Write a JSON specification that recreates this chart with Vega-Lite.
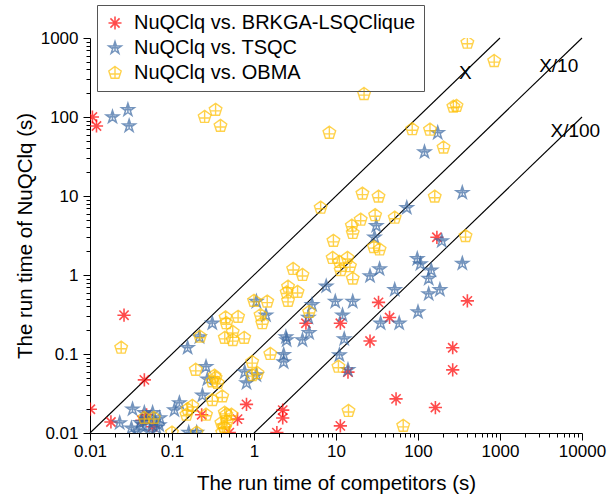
{
  "$schema": "https://vega.github.io/schema/vega-lite/v6.json",
  "width": 492,
  "height": 395,
  "autosize": {"type": "none"},
  "padding": {"left": 90, "top": 38, "right": 33, "bottom": 64},
  "config": {
    "font": "Liberation Sans",
    "view": {"stroke": null},
    "axis": {
      "grid": false,
      "domainColor": "black",
      "tickColor": "black",
      "labelColor": "black",
      "titleColor": "black",
      "labelFontSize": 17,
      "titleFontSize": 20.5,
      "titleFontWeight": "normal",
      "labelOverlap": false,
      "labelFlush": false,
      "tickWidth": 1,
      "domainWidth": 1
    }
  },
  "datasets": {
    "pts": [
      {"series": "NuQClq vs. BRKGA-LSQClique", "x": 0.0107, "y": 100},
      {"series": "NuQClq vs. BRKGA-LSQClique", "x": 0.012, "y": 77},
      {"series": "NuQClq vs. BRKGA-LSQClique", "x": 0.0101, "y": 0.02},
      {"series": "NuQClq vs. BRKGA-LSQClique", "x": 0.026, "y": 0.31},
      {"series": "NuQClq vs. BRKGA-LSQClique", "x": 0.018, "y": 0.0138},
      {"series": "NuQClq vs. BRKGA-LSQClique", "x": 0.046, "y": 0.047},
      {"series": "NuQClq vs. BRKGA-LSQClique", "x": 0.049, "y": 0.017},
      {"series": "NuQClq vs. BRKGA-LSQClique", "x": 0.058, "y": 0.012},
      {"series": "NuQClq vs. BRKGA-LSQClique", "x": 0.043, "y": 0.0145},
      {"series": "NuQClq vs. BRKGA-LSQClique", "x": 0.81, "y": 0.023},
      {"series": "NuQClq vs. BRKGA-LSQClique", "x": 0.23, "y": 0.017},
      {"series": "NuQClq vs. BRKGA-LSQClique", "x": 0.63, "y": 0.015},
      {"series": "NuQClq vs. BRKGA-LSQClique", "x": 0.5, "y": 0.0101},
      {"series": "NuQClq vs. BRKGA-LSQClique", "x": 2.24, "y": 0.0195},
      {"series": "NuQClq vs. BRKGA-LSQClique", "x": 2.24, "y": 0.0155},
      {"series": "NuQClq vs. BRKGA-LSQClique", "x": 1.9, "y": 0.0101},
      {"series": "NuQClq vs. BRKGA-LSQClique", "x": 170, "y": 3.0},
      {"series": "NuQClq vs. BRKGA-LSQClique", "x": 400, "y": 0.47},
      {"series": "NuQClq vs. BRKGA-LSQClique", "x": 45, "y": 0.29},
      {"series": "NuQClq vs. BRKGA-LSQClique", "x": 33, "y": 0.45},
      {"series": "NuQClq vs. BRKGA-LSQClique", "x": 4.3, "y": 0.245},
      {"series": "NuQClq vs. BRKGA-LSQClique", "x": 11.3, "y": 0.245},
      {"series": "NuQClq vs. BRKGA-LSQClique", "x": 26, "y": 0.146},
      {"series": "NuQClq vs. BRKGA-LSQClique", "x": 265, "y": 0.12},
      {"series": "NuQClq vs. BRKGA-LSQClique", "x": 265, "y": 0.063},
      {"series": "NuQClq vs. BRKGA-LSQClique", "x": 14, "y": 0.059},
      {"series": "NuQClq vs. BRKGA-LSQClique", "x": 54, "y": 0.027},
      {"series": "NuQClq vs. BRKGA-LSQClique", "x": 163, "y": 0.021},
      {"series": "NuQClq vs. BRKGA-LSQClique", "x": 11.3, "y": 0.0123},
      {"series": "NuQClq vs. TSQC", "x": 0.0188, "y": 100},
      {"series": "NuQClq vs. TSQC", "x": 0.029, "y": 123},
      {"series": "NuQClq vs. TSQC", "x": 0.030, "y": 77},
      {"series": "NuQClq vs. TSQC", "x": 0.023, "y": 0.0134},
      {"series": "NuQClq vs. TSQC", "x": 0.033, "y": 0.02},
      {"series": "NuQClq vs. TSQC", "x": 0.032, "y": 0.0115},
      {"series": "NuQClq vs. TSQC", "x": 0.038, "y": 0.0103},
      {"series": "NuQClq vs. TSQC", "x": 0.044, "y": 0.0126},
      {"series": "NuQClq vs. TSQC", "x": 0.05, "y": 0.0146},
      {"series": "NuQClq vs. TSQC", "x": 0.058, "y": 0.018},
      {"series": "NuQClq vs. TSQC", "x": 0.065, "y": 0.0116},
      {"series": "NuQClq vs. TSQC", "x": 0.071, "y": 0.0155},
      {"series": "NuQClq vs. TSQC", "x": 0.053, "y": 0.0103},
      {"series": "NuQClq vs. TSQC", "x": 0.046, "y": 0.018},
      {"series": "NuQClq vs. TSQC", "x": 0.07, "y": 0.0126},
      {"series": "NuQClq vs. TSQC", "x": 0.041, "y": 0.0135},
      {"series": "NuQClq vs. TSQC", "x": 0.06, "y": 0.014},
      {"series": "NuQClq vs. TSQC", "x": 0.107, "y": 0.0195},
      {"series": "NuQClq vs. TSQC", "x": 0.123, "y": 0.024},
      {"series": "NuQClq vs. TSQC", "x": 0.235, "y": 0.030},
      {"series": "NuQClq vs. TSQC", "x": 0.155, "y": 0.12},
      {"series": "NuQClq vs. TSQC", "x": 0.216, "y": 0.164},
      {"series": "NuQClq vs. TSQC", "x": 0.26, "y": 0.069},
      {"series": "NuQClq vs. TSQC", "x": 0.27, "y": 0.048},
      {"series": "NuQClq vs. TSQC", "x": 0.77, "y": 0.059},
      {"series": "NuQClq vs. TSQC", "x": 0.81, "y": 0.043},
      {"series": "NuQClq vs. TSQC", "x": 1.07, "y": 0.054},
      {"series": "NuQClq vs. TSQC", "x": 2.3, "y": 0.098},
      {"series": "NuQClq vs. TSQC", "x": 2.3, "y": 0.079},
      {"series": "NuQClq vs. TSQC", "x": 2.5, "y": 0.15},
      {"series": "NuQClq vs. TSQC", "x": 3.9, "y": 0.15},
      {"series": "NuQClq vs. TSQC", "x": 4.7, "y": 0.185},
      {"series": "NuQClq vs. TSQC", "x": 0.31, "y": 0.245},
      {"series": "NuQClq vs. TSQC", "x": 1.07, "y": 0.46},
      {"series": "NuQClq vs. TSQC", "x": 1.4, "y": 0.31},
      {"series": "NuQClq vs. TSQC", "x": 5.1, "y": 0.42},
      {"series": "NuQClq vs. TSQC", "x": 4.6, "y": 0.29},
      {"series": "NuQClq vs. TSQC", "x": 2.45, "y": 0.164},
      {"series": "NuQClq vs. TSQC", "x": 347, "y": 11},
      {"series": "NuQClq vs. TSQC", "x": 73, "y": 7.1},
      {"series": "NuQClq vs. TSQC", "x": 31, "y": 4.2},
      {"series": "NuQClq vs. TSQC", "x": 29.5, "y": 3.0},
      {"series": "NuQClq vs. TSQC", "x": 195, "y": 2.7},
      {"series": "NuQClq vs. TSQC", "x": 34, "y": 1.19},
      {"series": "NuQClq vs. TSQC", "x": 26, "y": 0.97},
      {"series": "NuQClq vs. TSQC", "x": 98, "y": 1.6},
      {"series": "NuQClq vs. TSQC", "x": 107, "y": 1.38},
      {"series": "NuQClq vs. TSQC", "x": 145, "y": 1.15},
      {"series": "NuQClq vs. TSQC", "x": 135, "y": 0.9},
      {"series": "NuQClq vs. TSQC", "x": 347, "y": 1.4},
      {"series": "NuQClq vs. TSQC", "x": 7.6, "y": 0.72},
      {"series": "NuQClq vs. TSQC", "x": 52, "y": 0.65},
      {"series": "NuQClq vs. TSQC", "x": 185, "y": 0.65},
      {"series": "NuQClq vs. TSQC", "x": 135, "y": 0.575},
      {"series": "NuQClq vs. TSQC", "x": 100, "y": 0.34},
      {"series": "NuQClq vs. TSQC", "x": 59, "y": 0.245},
      {"series": "NuQClq vs. TSQC", "x": 35, "y": 0.245},
      {"series": "NuQClq vs. TSQC", "x": 9.8, "y": 0.46},
      {"series": "NuQClq vs. TSQC", "x": 16, "y": 0.46},
      {"series": "NuQClq vs. TSQC", "x": 12, "y": 0.31},
      {"series": "NuQClq vs. TSQC", "x": 12.6, "y": 0.155},
      {"series": "NuQClq vs. TSQC", "x": 11, "y": 0.097},
      {"series": "NuQClq vs. TSQC", "x": 14, "y": 0.063},
      {"series": "NuQClq vs. TSQC", "x": 174, "y": 63},
      {"series": "NuQClq vs. TSQC", "x": 120, "y": 36},
      {"series": "NuQClq vs. TSQC", "x": 0.16, "y": 0.0101},
      {"series": "NuQClq vs. TSQC", "x": 0.2, "y": 0.0101},
      {"series": "NuQClq vs. OBMA", "x": 400, "y": 870},
      {"series": "NuQClq vs. OBMA", "x": 850, "y": 510},
      {"series": "NuQClq vs. OBMA", "x": 22, "y": 195},
      {"series": "NuQClq vs. OBMA", "x": 295, "y": 138},
      {"series": "NuQClq vs. OBMA", "x": 270, "y": 135},
      {"series": "NuQClq vs. OBMA", "x": 8.3, "y": 63},
      {"series": "NuQClq vs. OBMA", "x": 85, "y": 70},
      {"series": "NuQClq vs. OBMA", "x": 140, "y": 69},
      {"series": "NuQClq vs. OBMA", "x": 205, "y": 41},
      {"series": "NuQClq vs. OBMA", "x": 21, "y": 10.7},
      {"series": "NuQClq vs. OBMA", "x": 33, "y": 9.8},
      {"series": "NuQClq vs. OBMA", "x": 160, "y": 9.8},
      {"series": "NuQClq vs. OBMA", "x": 6.5, "y": 7.1},
      {"series": "NuQClq vs. OBMA", "x": 30, "y": 5.7},
      {"series": "NuQClq vs. OBMA", "x": 20, "y": 5.0},
      {"series": "NuQClq vs. OBMA", "x": 52, "y": 5.3},
      {"series": "NuQClq vs. OBMA", "x": 15.6, "y": 4.2},
      {"series": "NuQClq vs. OBMA", "x": 16, "y": 3.4},
      {"series": "NuQClq vs. OBMA", "x": 9.3, "y": 2.7},
      {"series": "NuQClq vs. OBMA", "x": 380, "y": 3.1},
      {"series": "NuQClq vs. OBMA", "x": 29, "y": 2.25},
      {"series": "NuQClq vs. OBMA", "x": 34, "y": 2.1},
      {"series": "NuQClq vs. OBMA", "x": 9.1, "y": 1.64},
      {"series": "NuQClq vs. OBMA", "x": 11, "y": 1.46},
      {"series": "NuQClq vs. OBMA", "x": 13.8, "y": 1.64},
      {"series": "NuQClq vs. OBMA", "x": 14.8, "y": 1.29},
      {"series": "NuQClq vs. OBMA", "x": 11.4, "y": 1.15},
      {"series": "NuQClq vs. OBMA", "x": 16, "y": 0.9},
      {"series": "NuQClq vs. OBMA", "x": 3.9, "y": 1.0},
      {"series": "NuQClq vs. OBMA", "x": 3.0, "y": 1.19},
      {"series": "NuQClq vs. OBMA", "x": 2.6, "y": 0.71},
      {"series": "NuQClq vs. OBMA", "x": 3.4, "y": 0.61},
      {"series": "NuQClq vs. OBMA", "x": 2.5, "y": 0.6},
      {"series": "NuQClq vs. OBMA", "x": 2.6, "y": 0.47},
      {"series": "NuQClq vs. OBMA", "x": 1.0, "y": 0.47},
      {"series": "NuQClq vs. OBMA", "x": 1.45, "y": 0.46},
      {"series": "NuQClq vs. OBMA", "x": 1.2, "y": 0.31},
      {"series": "NuQClq vs. OBMA", "x": 1.26, "y": 0.245},
      {"series": "NuQClq vs. OBMA", "x": 0.45, "y": 0.29},
      {"series": "NuQClq vs. OBMA", "x": 0.46, "y": 0.245},
      {"series": "NuQClq vs. OBMA", "x": 0.64, "y": 0.295},
      {"series": "NuQClq vs. OBMA", "x": 0.55, "y": 0.19},
      {"series": "NuQClq vs. OBMA", "x": 0.44, "y": 0.16},
      {"series": "NuQClq vs. OBMA", "x": 0.76, "y": 0.16},
      {"series": "NuQClq vs. OBMA", "x": 0.22, "y": 0.165},
      {"series": "NuQClq vs. OBMA", "x": 4.7, "y": 0.34},
      {"series": "NuQClq vs. OBMA", "x": 0.55, "y": 0.15},
      {"series": "NuQClq vs. OBMA", "x": 0.195, "y": 0.063},
      {"series": "NuQClq vs. OBMA", "x": 0.33, "y": 0.053},
      {"series": "NuQClq vs. OBMA", "x": 0.36, "y": 0.043},
      {"series": "NuQClq vs. OBMA", "x": 0.31, "y": 0.045},
      {"series": "NuQClq vs. OBMA", "x": 0.95, "y": 0.079},
      {"series": "NuQClq vs. OBMA", "x": 1.1, "y": 0.057},
      {"series": "NuQClq vs. OBMA", "x": 0.95, "y": 0.054},
      {"series": "NuQClq vs. OBMA", "x": 1.58, "y": 0.1},
      {"series": "NuQClq vs. OBMA", "x": 0.31, "y": 0.026},
      {"series": "NuQClq vs. OBMA", "x": 0.41, "y": 0.029},
      {"series": "NuQClq vs. OBMA", "x": 0.177, "y": 0.022},
      {"series": "NuQClq vs. OBMA", "x": 0.155, "y": 0.02},
      {"series": "NuQClq vs. OBMA", "x": 0.15, "y": 0.017},
      {"series": "NuQClq vs. OBMA", "x": 0.26, "y": 0.017},
      {"series": "NuQClq vs. OBMA", "x": 0.46, "y": 0.017},
      {"series": "NuQClq vs. OBMA", "x": 0.53, "y": 0.017},
      {"series": "NuQClq vs. OBMA", "x": 0.44, "y": 0.018},
      {"series": "NuQClq vs. OBMA", "x": 0.47, "y": 0.014},
      {"series": "NuQClq vs. OBMA", "x": 0.43, "y": 0.012},
      {"series": "NuQClq vs. OBMA", "x": 0.4, "y": 0.0134},
      {"series": "NuQClq vs. OBMA", "x": 0.44, "y": 0.0116},
      {"series": "NuQClq vs. OBMA", "x": 0.41, "y": 0.0101},
      {"series": "NuQClq vs. OBMA", "x": 0.1, "y": 0.0101},
      {"series": "NuQClq vs. OBMA", "x": 0.2, "y": 0.0101},
      {"series": "NuQClq vs. OBMA", "x": 0.024, "y": 0.12},
      {"series": "NuQClq vs. OBMA", "x": 0.046, "y": 0.0155},
      {"series": "NuQClq vs. OBMA", "x": 0.06, "y": 0.0155},
      {"series": "NuQClq vs. OBMA", "x": 0.34, "y": 0.05},
      {"series": "NuQClq vs. OBMA", "x": 10.7, "y": 0.069},
      {"series": "NuQClq vs. OBMA", "x": 14.2, "y": 0.019},
      {"series": "NuQClq vs. OBMA", "x": 66, "y": 0.0123},
      {"series": "NuQClq vs. OBMA", "x": 0.25, "y": 100},
      {"series": "NuQClq vs. OBMA", "x": 0.34, "y": 123},
      {"series": "NuQClq vs. OBMA", "x": 0.39, "y": 77}
    ],
    "lines": [
      {"line": "X", "x": 0.01, "y": 0.01},
      {"line": "X", "x": 1000, "y": 1000},
      {"line": "X/10", "x": 0.1, "y": 0.01},
      {"line": "X/10", "x": 10000, "y": 1000},
      {"line": "X/100", "x": 1, "y": 0.01},
      {"line": "X/100", "x": 10000, "y": 100}
    ],
    "labels": [
      {"label": "X", "x": 379, "y": 360},
      {"label": "X/10", "x": 5200, "y": 443},
      {"label": "X/100", "x": 8300, "y": 66.5}
    ]
  },
  "encoding": {
    "x": {
      "field": "x",
      "type": "quantitative",
      "scale": {"type": "log", "domain": [0.01, 10000], "nice": false},
      "axis": {
        "title": "The run time of competitors (s)",
        "values": [0.01,0.02,0.03,0.04,0.05,0.06,0.07,0.08,0.09,0.1,0.2,0.3,0.4,0.5,0.6,0.7,0.8,0.9,1,2,3,4,5,6,7,8,9,10,20,30,40,50,60,70,80,90,100,200,300,400,500,600,700,800,900,1000,2000,3000,4000,5000,6000,7000,8000,9000,10000],
        "labelExpr": "abs(log(datum.value)/LN10 - round(log(datum.value)/LN10)) < 0.000001 ? format(datum.value, '~g') : ''",
        "tickSize": {"condition": {"test": "abs(log(datum.value)/LN10 - round(log(datum.value)/LN10)) < 0.000001", "value": 7}, "value": 4},
        "labelPadding": 3,
        "titlePadding": 14
      }
    },
    "y": {
      "field": "y",
      "type": "quantitative",
      "scale": {"type": "log", "domain": [0.01, 1000], "nice": false},
      "axis": {
        "title": "The run time of NuQClq (s)",
        "values": [0.01,0.02,0.03,0.04,0.05,0.06,0.07,0.08,0.09,0.1,0.2,0.3,0.4,0.5,0.6,0.7,0.8,0.9,1,2,3,4,5,6,7,8,9,10,20,30,40,50,60,70,80,90,100,200,300,400,500,600,700,800,900,1000],
        "labelExpr": "abs(log(datum.value)/LN10 - round(log(datum.value)/LN10)) < 0.000001 ? format(datum.value, '~g') : ''",
        "tickSize": {"condition": {"test": "abs(log(datum.value)/LN10 - round(log(datum.value)/LN10)) < 0.000001", "value": 7}, "value": 4},
        "labelPadding": 5,
        "titlePadding": 5
      }
    }
  },
  "layer": [
    {
      "data": {"name": "lines"},
      "mark": {"type": "line", "color": "black", "strokeWidth": 1.1},
      "encoding": {"detail": {"field": "line"}}
    },
    {
      "data": {"name": "pts"},
      "mark": {"type": "point", "filled": false, "clip": true, "size": 175},
      "encoding": {
        "strokeWidth": {
          "field": "series",
          "type": "nominal",
          "scale": {
            "domain": ["NuQClq vs. BRKGA-LSQClique", "NuQClq vs. TSQC", "NuQClq vs. OBMA"],
            "range": [1.6, 1.4, 1.25]
          },
          "legend": null
        },
        "color": {
          "field": "series",
          "type": "nominal",
          "scale": {
            "domain": ["NuQClq vs. BRKGA-LSQClique", "NuQClq vs. TSQC", "NuQClq vs. OBMA"],
            "range": ["#ff0000", "#3a68a2", "#ffc000"]
          },
          "legend": {
            "title": null,
            "orient": "none",
            "legendX": 7,
            "legendY": -33,
            "labelFontSize": 20,
            "labelLimit": 0,
            "labelColor": "black",
            "labelFont": "Liberation Sans",
            "symbolSize": 170,
            "symbolStrokeWidth": 1.4,
            "labelOffset": 9,
            "padding": 8,
            "rowPadding": 5,
            "strokeColor": "#555555",
            "encode": {"legend": {"update": {"strokeWidth": {"value": 2}}}}
          }
        },
        "shape": {
          "field": "series",
          "type": "nominal",
          "scale": {
            "domain": ["NuQClq vs. BRKGA-LSQClique", "NuQClq vs. TSQC", "NuQClq vs. OBMA"],
            "range": [
              "M0,-1L0,1M-1,0L1,0M-0.7,-0.7L0.7,0.7M-0.7,0.7L0.7,-0.7",
              "M0,-1L0.2245,-0.309L0.951,-0.309L0.363,0.118L0.588,0.809L0,0.382L-0.588,0.809L-0.363,0.118L-0.951,-0.309L-0.2245,-0.309ZM0,-0.65L0,0.45M-0.45,-0.05L0.45,-0.05",
              "M0,-1L0.951,-0.309L0.588,0.809L-0.588,0.809L-0.951,-0.309ZM0,-1L0,0.809M-0.8,0.15L0.8,0.15"
            ]
          },
          "legend": {
            "title": null,
            "orient": "none",
            "legendX": 7,
            "legendY": -33
          }
        }
      }
    },
    {
      "data": {"name": "labels"},
      "mark": {"type": "text", "fontSize": 19, "color": "black", "align": "center", "baseline": "middle"},
      "encoding": {"text": {"field": "label"}}
    }
  ]
}
